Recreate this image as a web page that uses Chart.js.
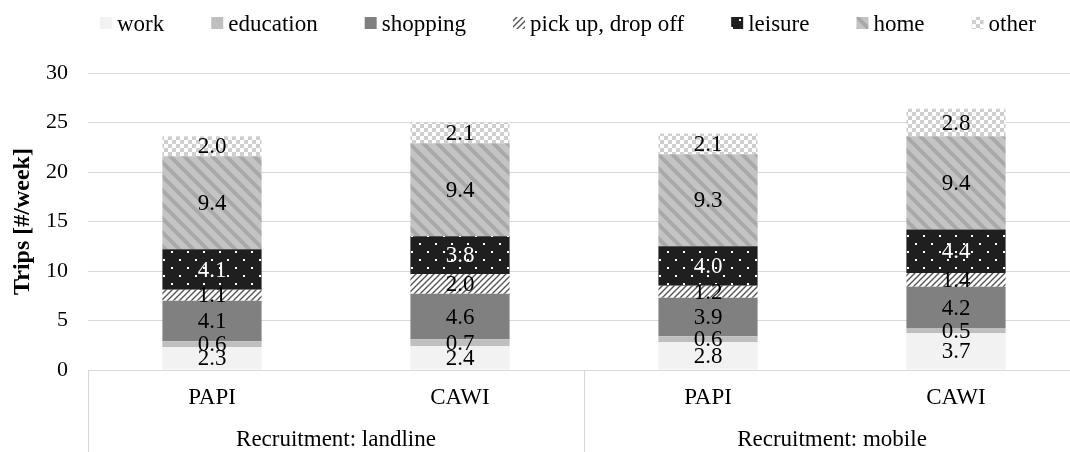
<!DOCTYPE html>
<html>
  <head>
    <title>Trips per week by recruitment and survey mode</title>
    <script src="https://cdn.jsdelivr.net/npm/chart.js@4.4.0/dist/chart.umd.min.js"></script>
    <style>
      body { margin: 0; overflow: hidden; background: #fff; }
    </style>
  </head>
  <body>
    <canvas id="canvas" width="1080" height="452"></canvas>
    <script>
      // categories (bottom row) and their groups (second row)
      const categories = ['PAPI', 'CAWI', 'PAPI', 'CAWI'];
      const groups = ['Recruitment: landline', 'Recruitment: mobile'];
      const groupSizes = [2, 2];

      // trips per week, stacked bottom to top
      const work = [2.3, 2.4, 2.8, 3.7];
      const education = [0.6, 0.7, 0.6, 0.5];
      const shopping = [4.1, 4.6, 3.9, 4.2];
      const pickUp = [1.1, 2.0, 1.2, 1.4];
      const leisure = [4.1, 3.8, 4.0, 4.4];
      const home = [9.4, 9.4, 9.3, 9.4];
      const other = [2.0, 2.1, 2.1, 2.8];

      const yTicks = [0, 5, 10, 15, 20, 25, 30];

      const FONT = "'Liberation Serif', 'Times New Roman', serif";
      const GRID = '#d9d9d9';

      function tile(w, h, draw) {
        const c = document.createElement('canvas');
        c.width = w;
        c.height = h;
        draw(c.getContext('2d'));
        return c.getContext('2d').createPattern(c, 'repeat');
      }

      // pick up: dark diagonal hatch on white
      const hatch = tile(6, 6, (g) => {
        g.fillStyle = '#fff';
        g.fillRect(0, 0, 6, 6);
        g.strokeStyle = '#555';
        g.lineWidth = 1.4;
        g.beginPath();
        g.moveTo(-1, 7); g.lineTo(7, -1);
        g.moveTo(-4, 4); g.lineTo(4, -4);
        g.moveTo(2, 10); g.lineTo(10, 2);
        g.stroke();
      });
      // leisure: near black with white dots
      const dots = tile(16, 16, (g) => {
        g.fillStyle = '#1f1f1f';
        g.fillRect(0, 0, 16, 16);
        g.fillStyle = '#fff';
        g.fillRect(3, 3, 2, 2);
        g.fillRect(11, 11, 2, 2);
      });
      // home: light grey with wide darker stripes
      const stripes = tile(14, 14, (g) => {
        g.fillStyle = '#c4c4c4';
        g.fillRect(0, 0, 14, 14);
        g.strokeStyle = '#a9a9a9';
        g.lineWidth = 4;
        g.beginPath();
        g.moveTo(-2, -2); g.lineTo(16, 16);
        g.moveTo(-16, -2); g.lineTo(2, 16);
        g.moveTo(12, -2); g.lineTo(30, 16);
        g.stroke();
      });
      // other: small checkerboard
      const checks = tile(8, 8, (g) => {
        g.fillStyle = '#fff';
        g.fillRect(0, 0, 8, 8);
        g.fillStyle = '#cfcfcf';
        g.fillRect(0, 0, 4, 4);
        g.fillRect(4, 4, 4, 4);
      });

      const series = [
        { label: 'work', data: work, backgroundColor: '#f2f2f2', text: '#000' },
        { label: 'education', data: education, backgroundColor: '#bfbfbf', text: '#000' },
        { label: 'shopping', data: shopping, backgroundColor: '#808080', text: '#000' },
        { label: 'pick up, drop off', data: pickUp, backgroundColor: hatch, text: '#000' },
        { label: 'leisure', data: leisure, backgroundColor: dots, text: '#fff' },
        { label: 'home', data: home, backgroundColor: stripes, text: '#000' },
        { label: 'other', data: other, backgroundColor: checks, text: '#000' },
      ];

      // value labels in the middle of each segment
      const segmentLabels = {
        id: 'segmentLabels',
        afterDatasetsDraw(chart) {
          const ctx = chart.ctx;
          ctx.save();
          ctx.font = '23px ' + FONT;
          ctx.textAlign = 'center';
          ctx.textBaseline = 'middle';
          chart.data.datasets.forEach((ds, i) => {
            chart.getDatasetMeta(i).data.forEach((bar, j) => {
              ctx.fillStyle = series[i].text;
              ctx.fillText(ds.data[j].toFixed(1), bar.x, (bar.y + bar.base) / 2 + 1);
            });
          });
          ctx.restore();
        },
      };

      // legend row drawn by hand so it sits where the original has it
      const topLegend = {
        id: 'topLegend',
        afterDraw(chart) {
          const ctx = chart.ctx;
          ctx.save();
          ctx.font = '23px ' + FONT;
          ctx.textBaseline = 'alphabetic';
          let x = 100;
          series.forEach((s) => {
            ctx.fillStyle = s.backgroundColor;
            ctx.fillRect(x, 17, 12, 12);
            x += 17;
            ctx.fillStyle = '#000';
            ctx.fillText(s.label, x, 31);
            x += ctx.measureText(s.label).width + 47;
          });
          ctx.restore();
        },
      };

      // second row of the category axis: group names and dividers
      const groupAxis = {
        id: 'groupAxis',
        afterDraw(chart) {
          const ctx = chart.ctx;
          const xs = chart.scales.x;
          const area = chart.chartArea;
          const step = xs.getPixelForValue(1) - xs.getPixelForValue(0);
          ctx.save();
          ctx.strokeStyle = GRID;
          ctx.lineWidth = 1;
          ctx.font = '23px ' + FONT;
          ctx.textAlign = 'center';
          ctx.textBaseline = 'middle';
          ctx.fillStyle = '#000';
          let start = 0;
          const edges = [area.left];
          groups.forEach((name, k) => {
            const end = start + groupSizes[k] - 1;
            const left = xs.getPixelForValue(start) - step / 2;
            const right = xs.getPixelForValue(end) + step / 2;
            edges.push(right);
            ctx.fillText(name, (left + right) / 2, 440);
            start = end + 1;
          });
          edges.forEach((e) => {
            const px = Math.round(e) + 0.5;
            ctx.beginPath();
            ctx.moveTo(px, area.bottom);
            ctx.lineTo(px, chart.height);
            ctx.stroke();
          });
          ctx.restore();
        },
      };

      const ctx = document.getElementById('canvas').getContext('2d');
      new Chart(ctx, {
        type: 'bar',
        data: {
          labels: categories,
          datasets: series.map((s) => ({
            label: s.label,
            data: s.data,
            backgroundColor: s.backgroundColor,
            borderWidth: 0,
            barPercentage: 0.4,
            categoryPercentage: 1.0,
          })),
        },
        options: {
          responsive: false,
          animation: false,
          layout: { padding: { top: 73, left: 0, right: 0, bottom: 0 } },
          plugins: {
            legend: { display: false },
            tooltip: { enabled: false },
          },
          scales: {
            x: {
              stacked: true,
              grid: { display: false, drawTicks: false },
              border: { display: false },
              ticks: { color: '#000', font: { family: FONT, size: 23 }, padding: 14 },
              afterFit(scale) { scale.height = 82; },
            },
            y: {
              stacked: true,
              min: 0,
              max: 30,
              afterBuildTicks(scale) { scale.ticks = yTicks.map((v) => ({ value: v })); },
              grid: { color: GRID, drawTicks: false },
              border: { display: false },
              ticks: { color: '#000', font: { family: FONT, size: 22 }, padding: 20 },
              title: {
                display: true,
                text: 'Trips [#/week]',
                color: '#000',
                font: { family: FONT, size: 24, weight: 'bold' },
                padding: { top: 8, bottom: 0 },
              },
              afterFit(scale) { scale.width = 88; },
            },
          },
        },
        plugins: [segmentLabels, topLegend, groupAxis],
      });
    </script>
  </body>
</html>
